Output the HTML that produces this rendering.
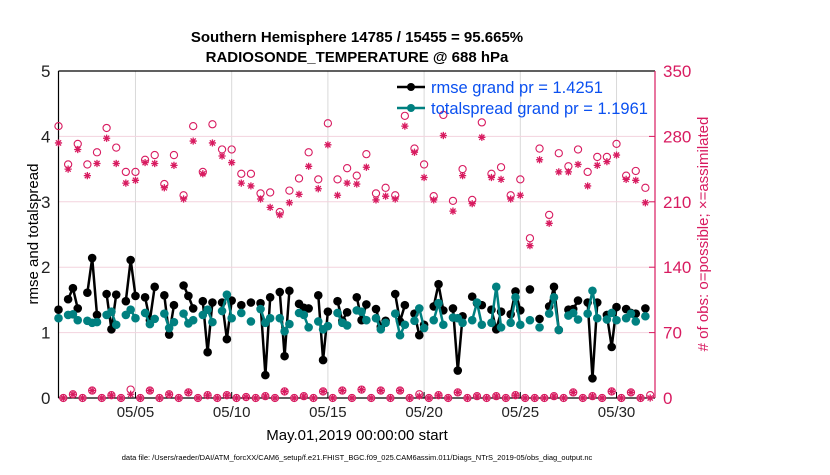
<!DOCTYPE html>
<html><head><meta charset="utf-8"><style>
body{margin:0;background:#fff;width:830px;height:470px;overflow:hidden}
svg{font-family:"Liberation Sans",Arial,sans-serif}
</style></head><body>
<svg id="chart" width="830" height="470" viewBox="0 0 830 470">
<text x="357" y="42" text-anchor="middle" font-size="15" font-weight="bold">Southern Hemisphere 14785 / 15455 = 95.665%</text>
<text x="357" y="62" text-anchor="middle" font-size="15" font-weight="bold">RADIOSONDE_TEMPERATURE @ 688 hPa</text>
<g id="grid"></g>
<g id="axes"></g>
<g id="marks"></g>
<g id="legend">
<line x1="397" y1="87" x2="425" y2="87" stroke="#000" stroke-width="2.5"/>
<circle cx="411" cy="87" r="4" fill="#000"/>
<text x="431" y="93" font-size="16.5" fill="#0a50f0">rmse grand pr = 1.4251</text>
<line x1="397" y1="108" x2="425" y2="108" stroke="#008080" stroke-width="2.5"/>
<circle cx="411" cy="108" r="4" fill="#008080"/>
<text x="431" y="114" font-size="16.5" fill="#0a50f0">totalspread grand pr = 1.1961</text>
</g>
<text transform="translate(38,234) rotate(-90)" text-anchor="middle" font-size="15">rmse and totalspread</text>
<text transform="translate(708,234) rotate(-90)" text-anchor="middle" font-size="15" fill="#d81b60"># of obs: o=possible; ×=assimilated</text>
<text x="357" y="440" text-anchor="middle" font-size="15">May.01,2019 00:00:00 start</text>
<text x="357" y="460" text-anchor="middle" font-size="7.5">data file: /Users/raeder/DAI/ATM_forcXX/CAM6_setup/f.e21.FHIST_BGC.f09_025.CAM6assim.011/Diags_NTrS_2019-05/obs_diag_output.nc</text>
</svg>
<script>
const xTickDays=[4,9,14,19,24,29];
const xTickLabels=["05/05","05/10","05/15","05/20","05/25","05/30"];
const yTicks=[0,1,2,3,4,5];
const y2Ticks=[0,70,140,210,280,350];
const times=[0,0.5,0.75,1,1.5,1.75,2,2.5,2.75,3,3.5,3.75,4,4.5,4.75,5,5.5,5.75,6,6.5,6.75,7,7.5,7.75,8,8.5,8.75,9,9.5,10,10.5,10.75,11,11.5,11.75,12,12.5,12.75,13,13.5,13.75,14,14.5,14.75,15,15.5,15.75,16,16.5,16.75,17,17.5,17.75,18,18.5,18.75,19,19.5,19.75,20,20.5,20.75,21,21.5,21.75,22,22.5,22.75,23,23.5,23.75,24,24.5,25,25.5,25.75,26,26.5,26.75,27,27.5,27.75,28,28.5,28.75,29,29.5,29.75,30,30.5];
const rmse=[1.35,1.51,1.68,1.37,1.61,2.14,1.27,1.59,1.05,1.58,1.48,2.11,1.56,1.54,1.19,1.70,1.57,0.97,1.42,1.72,1.56,1.37,1.48,0.70,1.46,1.46,0.90,1.49,1.42,1.46,1.45,0.35,1.54,1.62,0.64,1.64,1.44,1.38,1.37,1.57,0.58,1.32,1.48,1.18,1.31,1.54,1.19,1.43,1.36,1.09,1.18,1.59,1.17,1.42,1.29,0.96,1.12,1.40,1.74,1.34,1.37,0.42,1.25,1.55,1.45,1.42,1.35,1.05,1.32,1.28,1.63,1.34,1.66,1.21,1.40,1.70,1.04,1.35,1.36,1.49,1.46,0.30,1.46,1.27,0.78,1.39,1.36,1.30,1.29,1.37];
const spread=[1.22,1.27,1.28,1.19,1.18,1.15,1.16,1.27,1.32,1.12,1.27,1.35,1.22,1.30,1.13,1.21,1.29,1.07,1.16,1.29,1.14,1.19,1.27,1.35,1.16,1.33,1.58,1.22,1.30,1.17,1.36,1.15,1.22,1.22,1.02,1.13,1.30,1.27,1.08,1.17,1.05,1.10,1.30,1.15,1.11,1.34,1.32,1.19,1.22,1.05,1.15,1.29,0.96,1.12,1.18,1.37,1.07,1.19,1.45,1.12,1.23,1.22,1.15,1.19,1.46,1.12,1.15,1.70,1.08,1.15,1.54,1.12,1.19,1.08,1.29,1.54,1.04,1.26,1.30,1.20,1.29,1.64,1.22,1.20,1.30,1.19,1.22,1.29,1.17,1.25];
const obsTimes=[0,0.5,1,1.5,2,2.5,3,3.5,4,4.5,5,5.5,6,6.5,7,7.5,8,8.5,9,9.5,10,10.5,11,11.5,12,12.5,13,13.5,14,14.5,15,15.5,16,16.5,17,17.5,18,18.5,19,19.5,20,20.5,21,21.5,22,22.5,23,23.5,24,24.5,25,25.5,26,26.5,27,27.5,28,28.5,29,29.5,30,30.5];
const possible=[291,250,272,250,263,289,268,242,242,255,260,229,260,217,291,242,293,266,266,240,240,219,220,199,222,235,263,234,294,234,246,238,261,219,225,217,302,267,250,216,303,211,245,212,295,240,247,217,234,171,267,196,262,248,266,242,258,258,272,238,243,225];
const assimilated=[273,245,266,238,251,278,251,230,233,252,251,225,249,213,275,240,273,259,252,230,227,213,204,196,209,218,248,224,271,217,230,229,247,212,216,213,291,263,236,212,281,200,238,208,279,236,234,213,217,163,255,187,242,242,250,227,249,253,260,234,233,209];
const lowTimes=[0.25,0.75,1.25,1.75,2.25,2.75,3.25,3.75,4.25,4.75,5.25,5.75,6.25,6.75,7.25,7.75,8.25,8.75,9.25,9.75,10.25,10.75,11.25,11.75,12.25,12.75,13.25,13.75,14.25,14.75,15.25,15.75,16.25,16.75,17.25,17.75,18.25,18.75,19.25,19.75,20.25,20.75,21.25,21.75,22.25,22.75,23.25,23.75,24.25,24.75,25.25,25.75,26.25,26.75,27.25,27.75,28.25,28.75,29.25,29.75,30.25,30.75];
const lowPossible=[0,4,0,8,0,3,0,9,0,8,0,4,0,6,0,3,0,3,0,1,0,2,0,7,0,2,0,7,0,8,0,9,0,8,0,8,0,4,0,3,0,6,0,2,0,2,0,3,0,0,0,2,0,6,0,2,0,7,0,6,0,3];
const lowAssim=[0,4,0,8,0,3,0,4,0,8,0,4,0,6,0,3,0,3,0,1,0,2,0,7,0,2,0,7,0,8,0,9,0,8,0,8,0,2,0,3,0,6,0,2,0,2,0,3,0,0,0,2,0,6,0,2,0,7,0,6,0,0];

const X0=58.5,X1=655,Y0=398,Y1=71,DAYS=31;
const xs=t=>X0+t*(X1-X0)/DAYS;
const ys=v=>Y0-v*(Y0-Y1)/5;
const y2s=v=>Y0-v*(Y0-Y1)/350;
const NS="http://www.w3.org/2000/svg";
function mk(tag,attrs,parent){const e=document.createElementNS(NS,tag);for(const k in attrs)e.setAttribute(k,attrs[k]);parent.appendChild(e);return e;}
const grid=document.getElementById('grid'),axes=document.getElementById('axes'),marks=document.getElementById('marks');
const crim="#d81b60";
xTickDays.forEach((d,i)=>{
  const g=mk('line',{x1:xs(d),x2:xs(d),y1:Y1,y2:Y0,stroke:"#d9d9d9","stroke-width":1},grid);
  
  
  const tk=mk('line',{x1:xs(d),x2:xs(d),y1:Y0,y2:Y0-6,stroke:"#000"},axes);
  
  
  const t=mk('text',{x:xs(d),y:417,"text-anchor":"middle","font-size":15,fill:"#222"},axes);
  t.textContent=xTickLabels[i];
  
  
});
yTicks.forEach(v=>{
  if(v>0&&v<5){const g=mk('line',{x1:X0,x2:X1,y1:ys(v),y2:ys(v),stroke:"#f3d3de","stroke-width":1},grid);
  
  }
  const t=mk('text',{x:X0-8,y:ys(v)+6,"text-anchor":"end","font-size":17,fill:"#222"},axes);
  t.textContent=v;
  
  
});
y2Ticks.forEach(v=>{
  const tk=mk('line',{x1:X1,x2:X1-6,y1:y2s(v),y2:y2s(v),stroke:crim},axes);
  
  
  const t=mk('text',{x:X1+8,y:y2s(v)+6,"font-size":17,fill:crim},axes);
  t.textContent=v;
  
  
});
const frame=[[X0,Y1,X1,Y1,"#000"],[X0,Y1,X0,Y0,"#000"],[X0,Y0,X1,Y0,"#000"],[X1,Y1,X1,Y0,crim]];
frame.forEach(f=>{const l=mk('line',{x1:f[0],y1:f[1],x2:f[2],y2:f[3],stroke:f[4],"stroke-width":1.2},axes);

});

function series(vals,color,name){
  let d="";
  for(let i=0;i<times.length;i++){
    const p=xs(times[i]).toFixed(1)+","+ys(vals[i]).toFixed(1);
    d+=(i>0&&times[i]-times[i-1]<=0.3?"L":"M")+p;
  }
  const path=mk('path',{d:d,fill:"none",stroke:color,"stroke-width":2.5,"stroke-linejoin":"round"},marks);
  
  
  vals.forEach((v,i)=>{
    const c=mk('circle',{cx:xs(times[i]),cy:ys(v),r:4.3,fill:color},marks);
    
    
  });
}
function obsCircle(t,v){
  const c=mk('circle',{cx:xs(t),cy:y2s(v),r:3.6,fill:"none",stroke:crim,"stroke-width":1.1},marks);
  
  
}
function obsStar(t,v){
  const cx=xs(t),cy=y2s(v),r=3.6;
  const d=`M${cx-r},${cy}L${cx+r},${cy}M${cx},${cy-r}L${cx},${cy+r}M${cx-2.6},${cy-2.6}L${cx+2.6},${cy+2.6}M${cx-2.6},${cy+2.6}L${cx+2.6},${cy-2.6}`;
  const p=mk('path',{d:d,stroke:crim,"stroke-width":1.3},marks);
  
  
}
obsTimes.forEach((t,i)=>{obsCircle(t,possible[i]);obsStar(t,assimilated[i]);});
lowTimes.forEach((t,i)=>{obsCircle(t,lowPossible[i]);obsStar(t,lowAssim[i]);});
series(rmse,"#000","rmse");
series(spread,"#008080","totalspread");
</script>
</body></html>
